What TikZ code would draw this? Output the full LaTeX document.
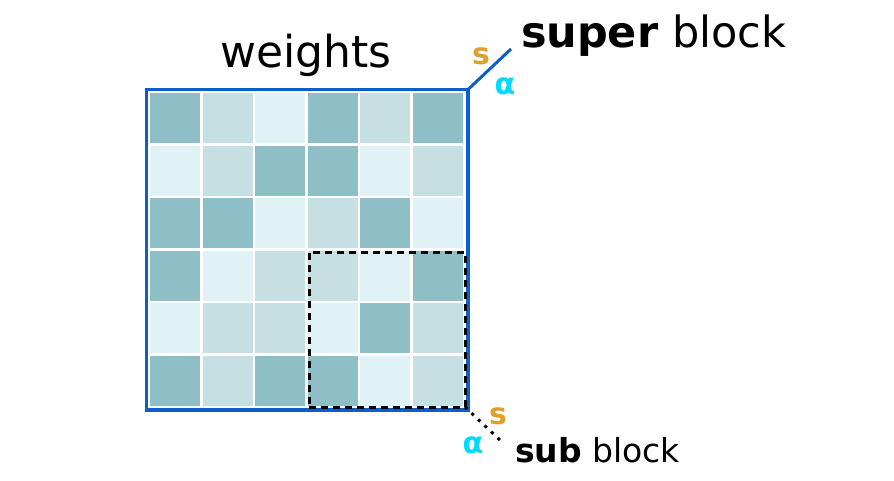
\documentclass[tikz,border=0pt]{standalone}
\usepackage{fontspec}
\setmainfont{DejaVu Sans}
\usetikzlibrary{positioning}
\definecolor{dk}{RGB}{143,191,198}
\definecolor{md}{RGB}{198,223,227}
\definecolor{lt}{RGB}{224,242,245}
\definecolor{frameblue}{RGB}{12,94,200}
\definecolor{sorange}{RGB}{222,160,44}
\definecolor{acyan}{RGB}{0,218,255}

\begin{document}
\begin{tikzpicture}[x=1pt,y=-1pt]
\tikzstyle{every node}=[inner sep=0pt, outer sep=0pt]
\tikzstyle{cell}=[minimum size=50pt]
\tikzstyle{big}=[font=\fontsize{44}{48}\selectfont]
\tikzstyle{mid}=[font=\fontsize{43}{46}\selectfont]
\tikzstyle{small}=[font=\fontsize{33}{36}\selectfont]
\tikzstyle{sym}=[font=\fontsize{30}{32}\selectfont\bfseries]
\useasboundingbox (0,0) rectangle (894,480);
\node (c11) at (175,118) [cell,fill=dk] {};
\node (c12) at (227.5,118) [cell,fill=md] {};
\node (c13) at (280,118) [cell,fill=lt] {};
\node (c14) at (332.5,118) [cell,fill=dk] {};
\node (c15) at (385,118) [cell,fill=md] {};
\node (c16) at (437.5,118) [cell,fill=dk] {};
\node (c21) at (175,170.5) [cell,fill=lt] {};
\node (c22) at (227.5,170.5) [cell,fill=md] {};
\node (c23) at (280,170.5) [cell,fill=dk] {};
\node (c24) at (332.5,170.5) [cell,fill=dk] {};
\node (c25) at (385,170.5) [cell,fill=lt] {};
\node (c26) at (437.5,170.5) [cell,fill=md] {};
\node (c31) at (175,223) [cell,fill=dk] {};
\node (c32) at (227.5,223) [cell,fill=dk] {};
\node (c33) at (280,223) [cell,fill=lt] {};
\node (c34) at (332.5,223) [cell,fill=md] {};
\node (c35) at (385,223) [cell,fill=dk] {};
\node (c36) at (437.5,223) [cell,fill=lt] {};
\node (c41) at (175,275.5) [cell,fill=dk] {};
\node (c42) at (227.5,275.5) [cell,fill=lt] {};
\node (c43) at (280,275.5) [cell,fill=md] {};
\node (c44) at (332.5,275.5) [cell,fill=md] {};
\node (c45) at (385,275.5) [cell,fill=lt] {};
\node (c46) at (437.5,275.5) [cell,fill=dk] {};
\node (c51) at (175,328) [cell,fill=lt] {};
\node (c52) at (227.5,328) [cell,fill=md] {};
\node (c53) at (280,328) [cell,fill=md] {};
\node (c54) at (332.5,328) [cell,fill=lt] {};
\node (c55) at (385,328) [cell,fill=dk] {};
\node (c56) at (437.5,328) [cell,fill=md] {};
\node (c61) at (175,380.5) [cell,fill=dk] {};
\node (c62) at (227.5,380.5) [cell,fill=md] {};
\node (c63) at (280,380.5) [cell,fill=dk] {};
\node (c64) at (332.5,380.5) [cell,fill=dk] {};
\node (c65) at (385,380.5) [cell,fill=lt] {};
\node (c66) at (437.5,380.5) [cell,fill=md] {};
\node (w) at (307.25,249.75) [draw=frameblue, line width=3.5pt, minimum width=321.5pt, minimum height=320.5pt] {};
\node (sub) at (387,329.5) [draw, line width=3pt, dash pattern=on 7pt off 5pt, minimum width=156pt, minimum height=155pt] {};
\node (wl) at (306,67) [big, anchor=base] {weights};
\coordinate (sbend) at (511,49);
\node (sbl) at (521,47) [mid, anchor=base west] {\textbf{super} block};
\node (ss) at (481,56) [sym, text=sorange] {s};
\node (sa) at (505,86) [sym, text=acyan] {α};
\draw [frameblue, line width=3pt] (w.north east) -- (sbend);
\coordinate (subend) at (502,442);
\node (sul) at (515,462) [small, anchor=base west] {\textbf{sub} block};
\node (us) at (498,416) [sym, text=sorange] {s};
\node (ua) at (473,445) [sym, text=acyan] {α};
\draw [line width=3pt, dash pattern=on 3pt off 6pt] (sub.south east) -- (subend);
\end{tikzpicture}
\end{document}
